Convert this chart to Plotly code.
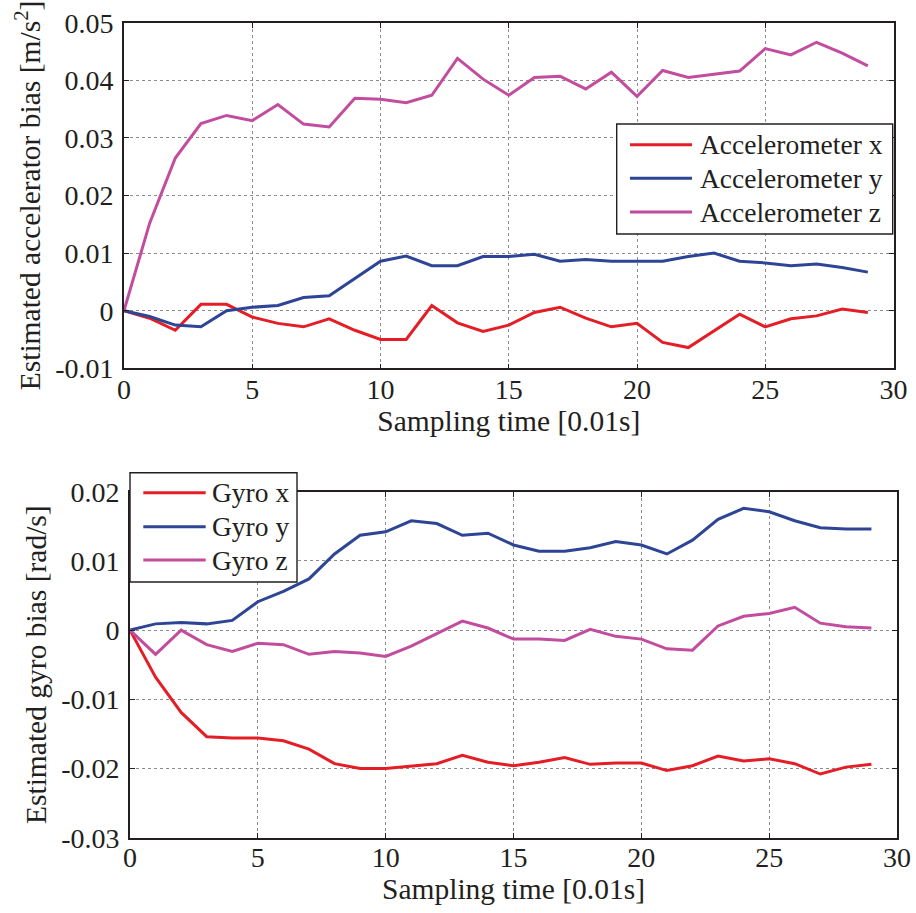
import plotly.graph_objects as go

# ---------------- data ----------------
t = list(range(30))

acc_names = ["Accelerometer x", "Accelerometer y", "Accelerometer z"]
acc_x = [0.0, -0.0013, -0.0034, 0.0011, 0.0011, -0.0011, -0.0022, -0.0028, -0.0014, -0.0034,
         -0.0050, -0.0050, 0.0009, -0.0021, -0.0036, -0.0025, -0.0003, 0.0006, -0.0013, -0.0028,
         -0.0022, -0.0055, -0.0064, -0.0035, -0.0006, -0.0028, -0.0014, -0.0009, 0.0003, -0.0003]
acc_y = [0.0, -0.0010, -0.0025, -0.0028, 0.0000, 0.0006, 0.0009, 0.0023, 0.0026, 0.0056,
         0.0086, 0.0095, 0.0078, 0.0078, 0.0094, 0.0094, 0.0098, 0.0086, 0.0089, 0.0086,
         0.0086, 0.0086, 0.0094, 0.0100, 0.0086, 0.0083, 0.0078, 0.0081, 0.0075, 0.0067]
acc_z = [0.0, 0.0152, 0.0265, 0.0325, 0.0339, 0.0330, 0.0358, 0.0324, 0.0319, 0.0369,
         0.0367, 0.0361, 0.0374, 0.0438, 0.0402, 0.0374, 0.0405, 0.0407, 0.0385, 0.0414,
         0.0372, 0.0417, 0.0405, 0.0411, 0.0416, 0.0455, 0.0444, 0.0466, 0.0447, 0.0425]

gyro_names = ["Gyro x", "Gyro y", "Gyro z"]
gyro_x = [0.0, -0.0068, -0.0119, -0.0154, -0.0156, -0.0156, -0.0160, -0.0172, -0.0193, -0.0200,
          -0.0200, -0.0196, -0.0193, -0.0181, -0.0191, -0.0196, -0.0191, -0.0184, -0.0194, -0.0192,
          -0.0192, -0.0203, -0.0196, -0.0182, -0.0189, -0.0186, -0.0193, -0.0208, -0.0198, -0.0194]
gyro_y = [0.0, 0.0009, 0.0011, 0.0009, 0.0014, 0.0041, 0.0056, 0.0074, 0.0110, 0.0137,
          0.0142, 0.0158, 0.0154, 0.0137, 0.0140, 0.0123, 0.0114, 0.0114, 0.0119, 0.0128,
          0.0123, 0.0110, 0.0130, 0.0160, 0.0176, 0.0171, 0.0158, 0.0148, 0.0146, 0.0146]
gyro_z = [0.0, -0.0035, 0.0000, -0.0021, -0.0031, -0.0019, -0.0021, -0.0035, -0.0031, -0.0033,
          -0.0038, -0.0023, -0.0005, 0.0013, 0.0003, -0.0013, -0.0013, -0.0015, 0.0001, -0.0009,
          -0.0013, -0.0027, -0.0029, 0.0006, 0.0020, 0.0024, 0.0033, 0.0010, 0.0005, 0.0003]

x_ticks = [0, 5, 10, 15, 20, 25, 30]
x_ticktext = ["0", "5", "10", "15", "20", "25", "30"]
acc_ticks = [-0.01, 0, 0.01, 0.02, 0.03, 0.04, 0.05]
acc_ticktext = ["-0.01", "0", "0.01", "0.02", "0.03", "0.04", "0.05"]
gyro_ticks = [-0.03, -0.02, -0.01, 0, 0.01, 0.02]
gyro_ticktext = ["-0.03", "-0.02", "-0.01", "0", "0.01", "0.02"]

x_title = "Sampling time [0.01s]"
acc_title = "Estimated accelerator bias [m/s<sup>2</sup>]"
gyro_title = "Estimated gyro bias [rad/s]"

# ---------------- style ----------------
W, H = 916, 913
colors = ["#E41E26", "#2E4596", "#C24D9E"]
FONT = "Liberation Serif"
TXT = "#231F20"
FS_TICK = 28
FS_TITLE = 29.5
FS_LEG = 27.5


def px(x):
    return x / W


def py(y):
    return 1 - y / H


fig = go.Figure()
for name, vals, c in zip(acc_names, [acc_x, acc_y, acc_z], colors):
    fig.add_trace(go.Scatter(x=t, y=vals, mode="lines", name=name,
                             line=dict(color=c, width=3), xaxis="x", yaxis="y",
                             showlegend=False))
for name, vals, c in zip(gyro_names, [gyro_x, gyro_y, gyro_z], colors):
    fig.add_trace(go.Scatter(x=t, y=vals, mode="lines", name=name,
                             line=dict(color=c, width=3), xaxis="x2", yaxis="y2",
                             showlegend=False))

axis_common = dict(
    ticks="inside", ticklen=5, tickwidth=1, tickcolor=TXT,
    mirror="allticks", showline=True, linecolor=TXT, linewidth=1.6,
    showgrid=True, gridcolor="#8c8c8c", gridwidth=1, griddash="dot",
    zeroline=False, tickfont=dict(family=FONT, size=FS_TICK, color=TXT),
    automargin=False,
)
title_font = dict(family=FONT, size=FS_TITLE, color=TXT)
leg_font = dict(family=FONT, size=FS_LEG, color=TXT)

fig.update_layout(
    width=W, height=H,
    margin=dict(l=0, r=0, t=0, b=0),
    paper_bgcolor="white", plot_bgcolor="white",
    showlegend=False,
    xaxis=dict(domain=[px(124), px(893.5)], range=[0, 30], anchor="y",
               tickvals=x_ticks, ticktext=x_ticktext,
               title=dict(text=x_title, font=title_font, standoff=1),
               ticklabelstandoff=-5, **axis_common),
    yaxis=dict(domain=[py(368.3), py(22.7)], range=[-0.01, 0.05], anchor="x",
               tickvals=acc_ticks, ticktext=acc_ticktext,
               title=dict(text=acc_title, font=title_font, standoff=6),
               ticklabelstandoff=3, **axis_common),
    xaxis2=dict(domain=[px(130), px(897)], range=[0, 30], anchor="y2",
                tickvals=x_ticks, ticktext=x_ticktext,
                title=dict(text=x_title, font=title_font, standoff=2),
                ticklabelstandoff=-6, **axis_common),
    yaxis2=dict(domain=[py(837.7), py(491.7)], range=[-0.03, 0.02], anchor="x2",
                tickvals=gyro_ticks, ticktext=gyro_ticktext,
                title=dict(text=gyro_title, font=title_font, standoff=6),
                ticklabelstandoff=3, **axis_common),
)

# ---------------- legends (boxes drawn as in the original) ----------------
shapes = []
annotations = []


def add_legend(box, line_x0, line_x1, rows, text_x, names):
    x0, y0, x1, y1 = box
    shapes.append(dict(type="rect", xref="paper", yref="paper",
                       x0=px(x0), x1=px(x1), y0=py(y1), y1=py(y0),
                       fillcolor="white", line=dict(color=TXT, width=1.4), layer="above"))
    for yy, name, c in zip(rows, names, colors):
        shapes.append(dict(type="line", xref="paper", yref="paper",
                           x0=px(line_x0), x1=px(line_x1), y0=py(yy), y1=py(yy),
                           line=dict(color=c, width=3), layer="above"))
        annotations.append(dict(xref="paper", yref="paper", x=px(text_x), y=py(yy),
                                xanchor="left", yanchor="middle", showarrow=False,
                                text=name, font=leg_font))


add_legend((616.7, 124, 892.7, 234), 630, 692, [144.7, 178.3, 212.0], 698, acc_names)
add_legend((130, 472.7, 297, 582), 143.3, 205.7, [492.7, 526.7, 560.0], 210, gyro_names)

fig.update_layout(shapes=shapes, annotations=annotations)

fig.write_html("out.html")
